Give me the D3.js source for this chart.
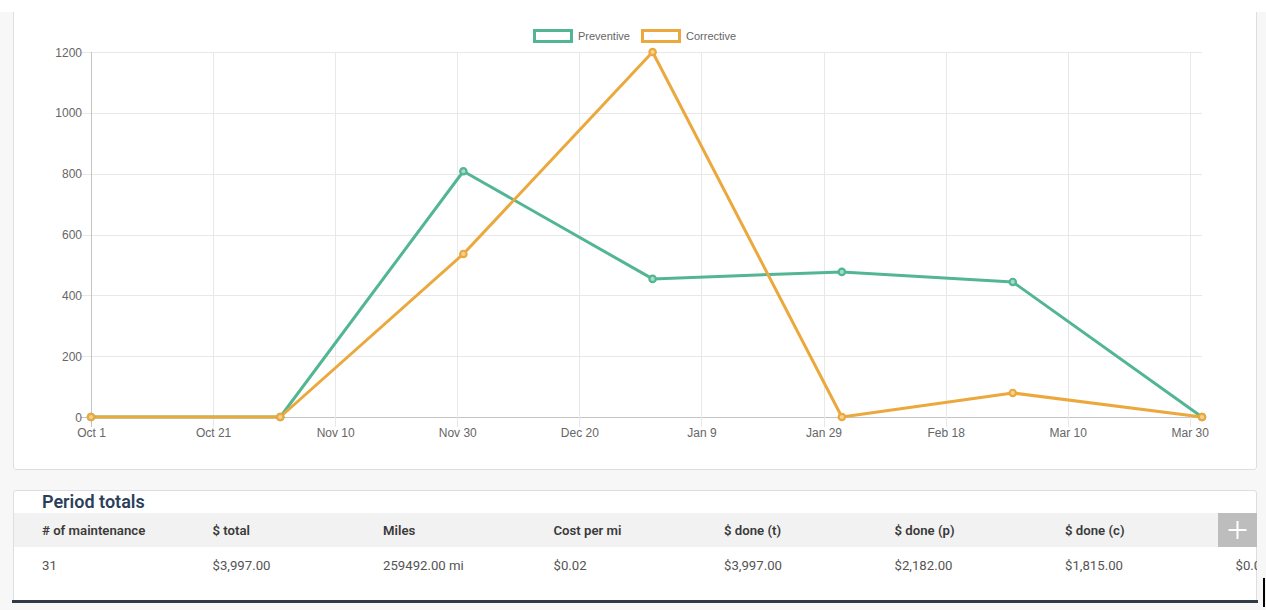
<!DOCTYPE html>
<html><head><meta charset="utf-8">
<script src="https://cdn.jsdelivr.net/npm/d3@7"></script>
<style>html,body{margin:0;padding:0;background:#f7f7f7;overflow:hidden;width:1266px;height:610px}</style>
</head><body>
<svg id="c" width="1266" height="610"></svg>
<script>
// ---- data ----
const dates = ["2022-10-01","2022-11-01","2022-12-01","2023-01-01","2023-02-01","2023-03-01","2023-04-01"];
const preventive = [0, 0, 808, 454, 477, 444, 0];
const corrective = [0, 0, 536, 1200, 0, 79, 0];
const seriesNames = ["Preventive", "Corrective"];
const yTickValues = [0, 200, 400, 600, 800, 1000, 1200];
const xTickDates = ["2022-10-01","2022-10-21","2022-11-10","2022-11-30","2022-12-20","2023-01-09","2023-01-29","2023-02-18","2023-03-10","2023-03-30"];
const tableTitle = "Period totals";
const tableHeaders = ["# of maintenance","$ total","Miles","Cost per mi","$ done (t)","$ done (p)","$ done (c)"];
const tableValues = ["31","$3,997.00","259492.00 mi","$0.02","$3,997.00","$2,182.00","$1,815.00","$0.00"];

const colors = ["#52b693", "#eba83c"];
const fills = ["#a9dcc8", "#f5d193"];

const parse = d3.timeParse("%Y-%m-%d");
const svg = d3.select("#c");
const chartFont = "'Liberation Sans', Arial, Helvetica, sans-serif";
const tableFont = "Roboto, 'Noto Sans', sans-serif";

// page top strip white
svg.append("rect").attr("x",0).attr("y",0).attr("width",1266).attr("height",12).attr("fill","#ffffff");

// ---- chart card ----
svg.append("rect").attr("x",13).attr("y",0).attr("width",1244).attr("height",470).attr("fill","#fff");
svg.append("path").attr("d","M13.5,12 V467 Q13.5,469.5 16,469.5 H1254 Q1256.5,469.5 1256.5,467 V12")
  .attr("fill","none").attr("stroke","#dedede");

const x = d3.scaleTime().domain([parse(dates[0]), parse(dates[dates.length-1])]).range([91, 1202]);
const y = d3.scaleLinear().domain([0, 1200]).range([417, 52]);

const g = svg.append("g");
// horizontal grid
g.selectAll(".hg").data(yTickValues).join("line")
  .attr("x1",81).attr("x2",1202)
  .attr("y1",d=>Math.round(y(d))+0.5).attr("y2",d=>Math.round(y(d))+0.5)
  .attr("stroke",d=>d===0?"#c4c4c4":"#e8e8e8").attr("stroke-width",1);
// vertical grid
g.selectAll(".vg").data(xTickDates).join("line")
  .attr("x1",d=>Math.round(x(parse(d)))+0.5).attr("x2",d=>Math.round(x(parse(d)))+0.5)
  .attr("y1",52).attr("y2",427)
  .attr("stroke",(d,i)=>i===0?"#c4c4c4":"#e8e8e8").attr("stroke-width",1);

// y axis labels
const yAxis = d3.axisLeft(y).tickValues(yTickValues).tickFormat(d3.format("d")).tickSize(0).tickPadding(0);
const ya = g.append("g").attr("transform","translate(82,0)").call(yAxis);
ya.select(".domain").remove();
ya.selectAll("text").attr("font-family",chartFont).attr("font-size",12).attr("fill","#666").attr("dy","0.34em");

// x axis labels
const xAxis = d3.axisBottom(x).tickValues(xTickDates.map(parse)).tickFormat(d3.timeFormat("%b %-d")).tickSize(0).tickPadding(0);
const xa = g.append("g").attr("transform","translate(0,428)").call(xAxis);
xa.select(".domain").remove();
xa.selectAll("text").attr("font-family",chartFont).attr("font-size",12).attr("fill","#666").attr("dy","0.71em");

// lines
const allSeries = [preventive, corrective];
const line = d3.line().x((d,i)=>x(parse(dates[i]))).y(d=>y(d));
allSeries.forEach((s,k)=>{
  g.append("path").datum(s).attr("d",line).attr("fill","none")
    .attr("stroke",colors[k]).attr("stroke-width",3).attr("stroke-linejoin","round");
});
allSeries.forEach((s,k)=>{
  g.selectAll(".pt"+k).data(s).join("circle")
    .attr("cx",(d,i)=>x(parse(dates[i]))).attr("cy",d=>y(d)).attr("r",3.2)
    .attr("fill",fills[k]).attr("stroke",colors[k]).attr("stroke-width",2.2);
});

// legend
const legendX = [533, 641];
seriesNames.forEach((n,k)=>{
  svg.append("rect").attr("x",legendX[k]+1.5).attr("y",30.5).attr("width",37).attr("height",11)
    .attr("fill","#fff").attr("stroke",colors[k]).attr("stroke-width",3);
  svg.append("text").attr("x",legendX[k]+45).attr("y",36).attr("dy","0.35em")
    .attr("font-family",chartFont).attr("font-size",11).attr("fill","#666").text(n);
});

// ---- table card ----
const clip = svg.append("defs").append("clipPath").attr("id","tc");
clip.append("rect").attr("x",13).attr("y",490).attr("width",1244).attr("height",120);
svg.append("path").attr("d","M13.5,610 V493 Q13.5,490.5 16,490.5 H1254 Q1256.5,490.5 1256.5,493 V610")
  .attr("fill","#fff").attr("stroke","#dedede");
const tg = svg.append("g").attr("clip-path","url(#tc)");
tg.append("text").attr("x",42).attr("y",508).attr("font-family",tableFont).attr("font-size",18)
  .attr("font-weight",600).attr("fill","#2b3f5c").text(tableTitle);
tg.append("rect").attr("x",14).attr("y",513).attr("width",1242).attr("height",34).attr("fill","#f2f2f2");
const colX = d3.scaleLinear().domain([0,1]).range([42, 212.5]);
tg.selectAll(".th").data(tableHeaders).join("text")
  .attr("x",(d,i)=>colX(i)).attr("y",530).attr("dy","0.35em")
  .attr("font-family",tableFont).attr("font-size",13.2).attr("font-weight",600).attr("fill","#3a3a3a").text(d=>d);
tg.selectAll(".td").data(tableValues).join("text")
  .attr("x",(d,i)=>colX(i)).attr("y",565).attr("dy","0.35em")
  .attr("font-family",tableFont).attr("font-size",13.2).attr("fill","#555").text(d=>d);
// plus button
tg.append("rect").attr("x",1218).attr("y",513).attr("width",39).attr("height",34).attr("fill","#bdbdbd");
tg.append("path").attr("d","M1237.5,521 V539 M1228.5,530 H1246.5").attr("stroke","#fff").attr("stroke-width",2);

// bottom scrollbar / dark strip
svg.append("rect").attr("x",12).attr("y",600).attr("width",1246).attr("height",3).attr("fill","#2e3a46");
svg.append("rect").attr("x",12).attr("y",603).attr("width",1246).attr("height",7).attr("fill","#f7f7f7");
svg.append("rect").attr("x",1263).attr("y",578).attr("width",2).attr("height",29).attr("fill","#000");
</script>
</body></html>
